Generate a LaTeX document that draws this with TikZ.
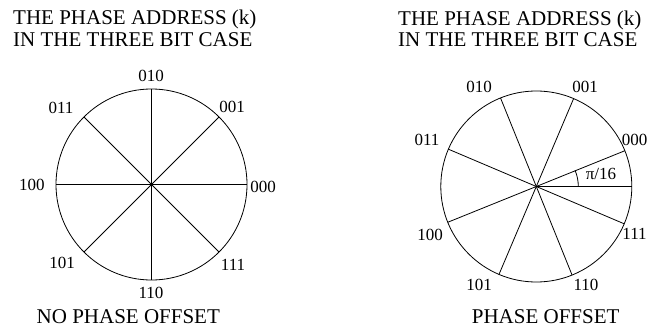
\documentclass[tikz,border=0pt]{standalone}
\usepackage{fontspec}
\setmainfont{Liberation Serif}
\begin{document}
\begin{tikzpicture}[x=1pt,y=-1pt,
  title/.style={font=\fontsize{21}{23}\selectfont, inner sep=0pt, anchor=base west},
  caption/.style={font=\fontsize{21}{23}\selectfont, inner sep=0pt},
  lab/.style={font=\fontsize{17}{19}\selectfont, inner sep=0pt},
  wheel/.style={circle, draw, line width=0.8pt, minimum size=191pt, inner sep=0pt, outer sep=0pt},
  spoke/.style={line width=0.8pt}]
\useasboundingbox (0,0) rectangle (648,329);

% ---------- left: no phase offset ----------
\node[title] (tl1) at (13,25) {THE PHASE ADDRESS (k)};
\node[title] (tl2) at (13,47) {IN THE THREE BIT CASE};
\node[wheel] (cL) at (151.5,184.5) {};
\foreach \a in {0,45,90,135} {
  \pgfmathtruncatemacro{\b}{\a+180}
  \draw[spoke] (cL.\a) -- (cL.\b);
}
\fill (cL.center) circle[radius=1.2pt];
\node[lab] (l010) at (151,76) {010};
\node[lab] (l001) at (232,107) {001};
\node[lab] (l000) at (263,187) {000};
\node[lab] (l111) at (233,265) {111};
\node[lab] (l110) at (151,293) {110};
\node[lab] (l101) at (62,263) {101};
\node[lab] (l100) at (32,185) {100};
\node[lab] (l011) at (61,108) {011};
\node[caption] (capL) at (128.3,316.5) {NO PHASE OFFSET};

% ---------- right: phase offset ----------
\node[title] (tr1) at (398,26) {THE PHASE ADDRESS (k)};
\node[title] (tr2) at (398,47) {IN THE THREE BIT CASE};
\node[wheel] (cR) at (536.3,186.5) {};
\draw[spoke] (cR.22.5) -- (cR.202.5);
\draw[spoke] (cR.67.5) -- (cR.247.5);
\draw[spoke] (cR.112.5) -- (cR.292.5);
\draw[spoke] (cR.157.5) -- (cR.337.5);
\draw[spoke] (cR.center) -- (cR.0);
\draw[spoke] (cR.center) ++(42,0) arc[start angle=0, end angle=-22.5, radius=42];
\node[lab] (pi) at (601,173.5) {π/16};
\node[lab] (r010) at (479,87) {010};
\node[lab] (r001) at (585,87) {001};
\node[lab] (r000) at (634.5,140) {000};
\node[lab] (r011) at (427,140) {011};
\node[lab] (r100) at (430,235) {100};
\node[lab] (r111) at (634.5,234) {111};
\node[lab] (r101) at (479,285) {101};
\node[lab] (r110) at (586,285) {110};
\node[caption] (capR) at (545.7,316.5) {PHASE OFFSET};
\end{tikzpicture}
\end{document}
